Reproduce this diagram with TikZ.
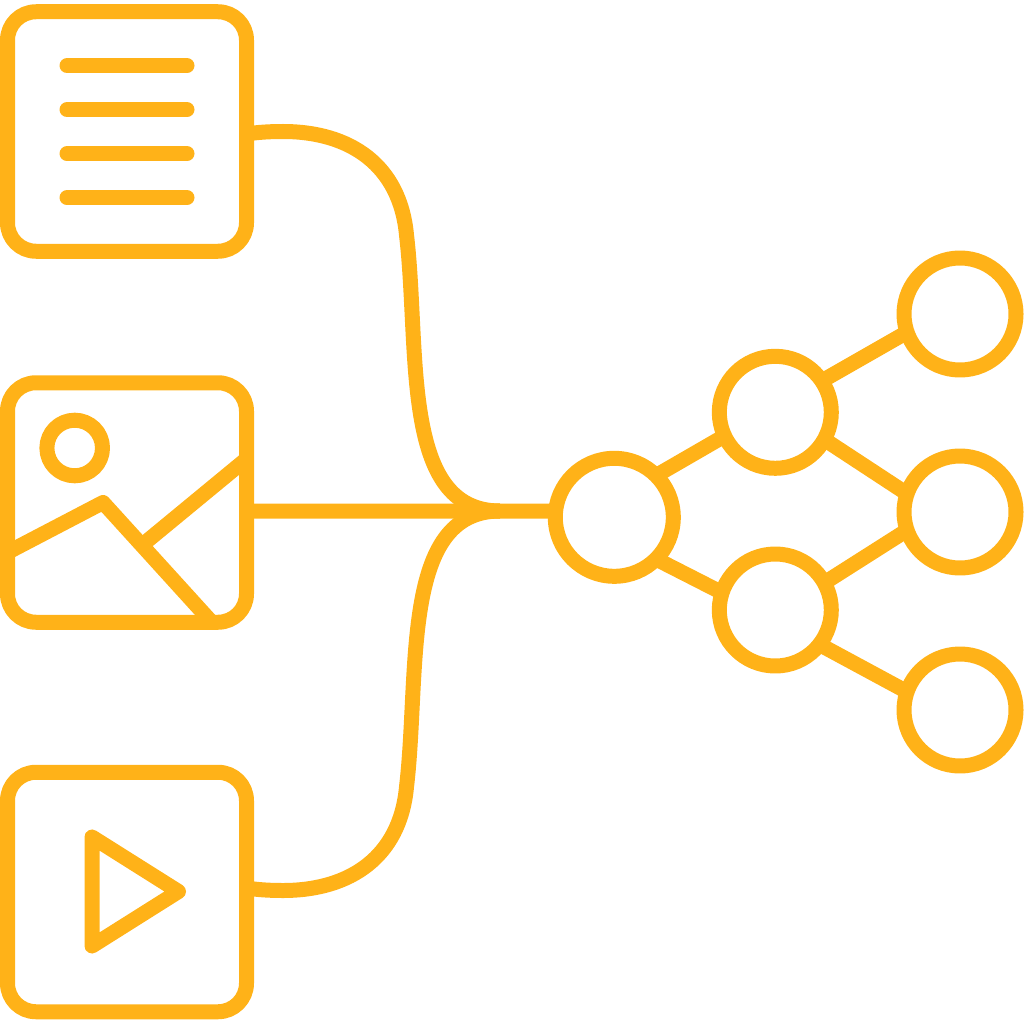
\documentclass[tikz,border=0pt]{standalone}
\usepackage{tikz}
\definecolor{amber}{HTML}{FFB218}

\begin{document}
\begin{tikzpicture}[x=1pt,y=-1pt,line width=15pt,draw=amber,line join=round,
    every node/.style = {draw, inner sep=0pt, outer sep=0pt},
    card/.style = {shape=rectangle, rounded corners=28.5pt, minimum width=239pt, minimum height=239.5pt},
    hub/.style = {shape=circle, minimum size=118pt},
    ring/.style = {shape=circle, minimum size=112pt}]
\useasboundingbox (0,0) rectangle (1024,1024);
% input cards
\node[card] (doc) at (127,131.5) {};
\node[card] (img) at (127,502.5) {};
\node[card] (vid) at (127,892) {};
% network
\node[hub] (root) at (614.3,517.3) {};
\node[ring] (upper) at (775.3,412.3) {};
\node[ring] (lower) at (775.3,610) {};
\node[ring] (leafa) at (960,314) {};
\node[ring] (leafb) at (960,512) {};
\node[ring] (leafc) at (960,710) {};
\coordinate (merge) at (500,511);
% card contents
\foreach \y in {65.7,109.7,153.7,197.7}
  \draw[line cap=round] (67,\y) -- (187,\y);
\draw (74.7,448) circle (27.8);
\draw (7.5,552.4) -- (103,502.5) -- (211.5,622);
\draw (146.5,541.5) -- (246.5,459);
\draw (92,837) -- (178.5,891.5) -- (92,946) -- cycle;
% connectors
\draw ([yshift=-2.5pt]doc.east) .. controls (258,132.2) and (270,131.5) .. (283,131.5)
  .. controls (350,131.5) and (400,165) .. (406.5,235)
  .. controls (420,350) and (400,511) .. (merge);
\draw ([yshift=4pt]vid.east) .. controls (258,889.8) and (270,890.5) .. (283,890.5)
  .. controls (350,890.5) and (400,857) .. (406.5,787)
  .. controls (420,672) and (400,511) .. (merge);
\draw ([yshift=-8.5pt]img.east) -- (root.174);
\draw (root.45) -- (upper.205.6);
\draw (root.-45) -- (lower.162);
\draw (upper.34.4) -- (leafa.199);
\draw (upper.-29.5) -- (leafb.161);
\draw (lower.29.5) -- (leafb.199);
\draw (lower.-38.6) -- (leafc.161);
\end{tikzpicture}
\end{document}
